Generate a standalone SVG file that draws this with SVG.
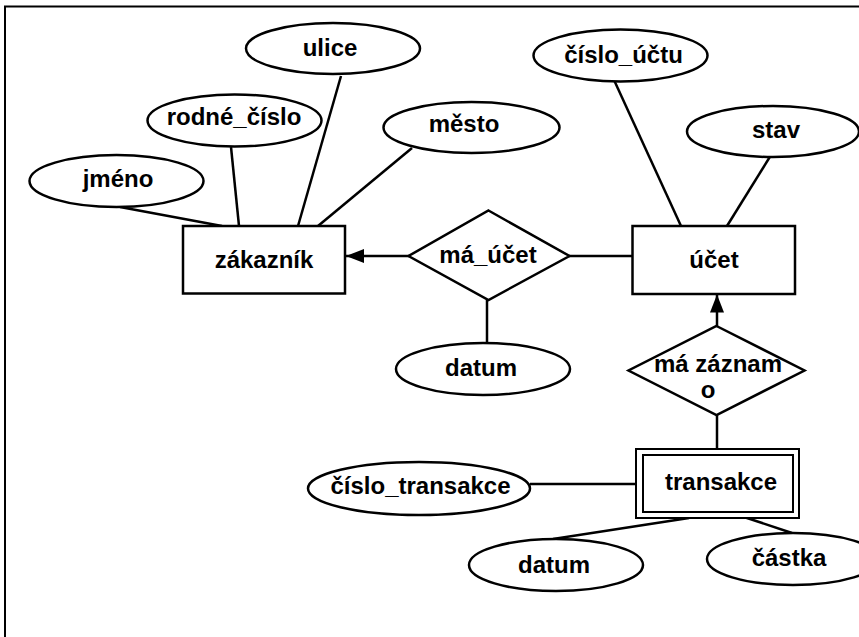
<svg xmlns="http://www.w3.org/2000/svg" width="859" height="637" viewBox="0 0 859 637">
<defs>
<style>
.sh{fill:#fff;stroke:#000;stroke-width:2.5}
.dr{fill:#fff;stroke:#000;stroke-width:2}
.ln{stroke:#000;stroke-width:2.5;fill:none}
text{font-family:"Liberation Sans",Arial,sans-serif;font-weight:bold;font-size:24px;fill:#000;text-anchor:middle}
</style>
<marker id="arr" markerUnits="userSpaceOnUse" markerWidth="20" markerHeight="16" refX="18" refY="8" orient="auto">
<path d="M0,1 L18,8 L0,15 Z" fill="#000"/>
</marker>
</defs>
<rect width="859" height="637" fill="#fff"/>
<rect x="5" y="6.5" width="900" height="700" fill="none" stroke="#000" stroke-width="2"/>
<g id="connectors">
<line class="ln" x1="120" y1="207" x2="222" y2="226"/>
<line class="ln" x1="231" y1="147" x2="239" y2="226"/>
<line class="ln" x1="341" y1="76" x2="298" y2="226"/>
<line class="ln" x1="412" y1="148" x2="318" y2="226"/>
<line class="ln" x1="614" y1="80" x2="681" y2="226"/>
<line class="ln" x1="771" y1="155" x2="727" y2="226"/>
<line class="ln" x1="409" y1="256" x2="346" y2="256" marker-end="url(#arr)"/>
<line class="ln" x1="569" y1="256" x2="632" y2="256"/>
<line class="ln" x1="487" y1="300" x2="487" y2="343"/>
<line class="ln" x1="717" y1="326" x2="717" y2="294.5" marker-end="url(#arr)"/>
<line class="ln" x1="717" y1="415" x2="717" y2="449"/>
<line class="ln" x1="530" y1="484" x2="636" y2="484"/>
<line class="ln" x1="553" y1="539" x2="689" y2="518"/>
<line class="ln" x1="744" y1="517" x2="792" y2="533"/>
</g>
<g id="ulice"><ellipse class="sh" cx="333" cy="48.5" rx="87" ry="25.5"/><text x="330" y="56">ulice</text></g>
<g id="rodne_cislo"><ellipse class="sh" cx="234.5" cy="120.5" rx="87" ry="26"/><text x="234" y="125">rodné_číslo</text></g>
<g id="jmeno"><ellipse class="sh" cx="116.5" cy="181" rx="87" ry="26"/><text x="118" y="187">jméno</text></g>
<g id="mesto"><ellipse class="sh" cx="471.5" cy="127.5" rx="88" ry="25.5"/><text x="464" y="132">město</text></g>
<g id="zakaznik"><rect class="sh" x="183" y="226" width="162" height="67.5"/><text x="264" y="268">zákazník</text></g>
<g id="cislo_uctu"><ellipse class="sh" cx="620.5" cy="55.5" rx="87" ry="26"/><text x="623.5" y="63">číslo_účtu</text></g>
<g id="stav"><ellipse class="sh" cx="773" cy="131.5" rx="86" ry="25.5"/><text x="776" y="138">stav</text></g>
<g id="ucet"><rect class="sh" x="632.5" y="226" width="162.5" height="68"/><text x="714" y="268">účet</text></g>
<g id="ma_ucet"><polygon class="sh" points="488.5,210.5 569.5,256 488.5,300 408.5,256"/><text x="488" y="263">má_účet</text></g>
<g id="datum1"><ellipse class="sh" cx="483" cy="369" rx="87" ry="26"/><text x="481" y="376">datum</text></g>
<g id="ma_zaznamo"><polygon class="sh" points="716.5,326 804.5,370.5 716.5,415 628.5,370.5"/><text x="718" y="372">má záznam</text><text x="708" y="398">o</text></g>
<g id="transakce"><rect class="dr" x="636" y="449" width="163" height="69"/><rect class="dr" x="643" y="455" width="150" height="57"/><text x="721" y="490">transakce</text></g>
<g id="cislo_transakce"><ellipse class="sh" cx="419" cy="488.5" rx="111" ry="26.5"/><text x="420.5" y="494">číslo_transakce</text></g>
<g id="datum2"><ellipse class="sh" cx="556" cy="565" rx="87" ry="26"/><text x="554" y="573">datum</text></g>
<g id="castka"><ellipse class="sh" cx="793" cy="559" rx="86" ry="26"/><text x="789" y="566">částka</text></g>
</svg>
